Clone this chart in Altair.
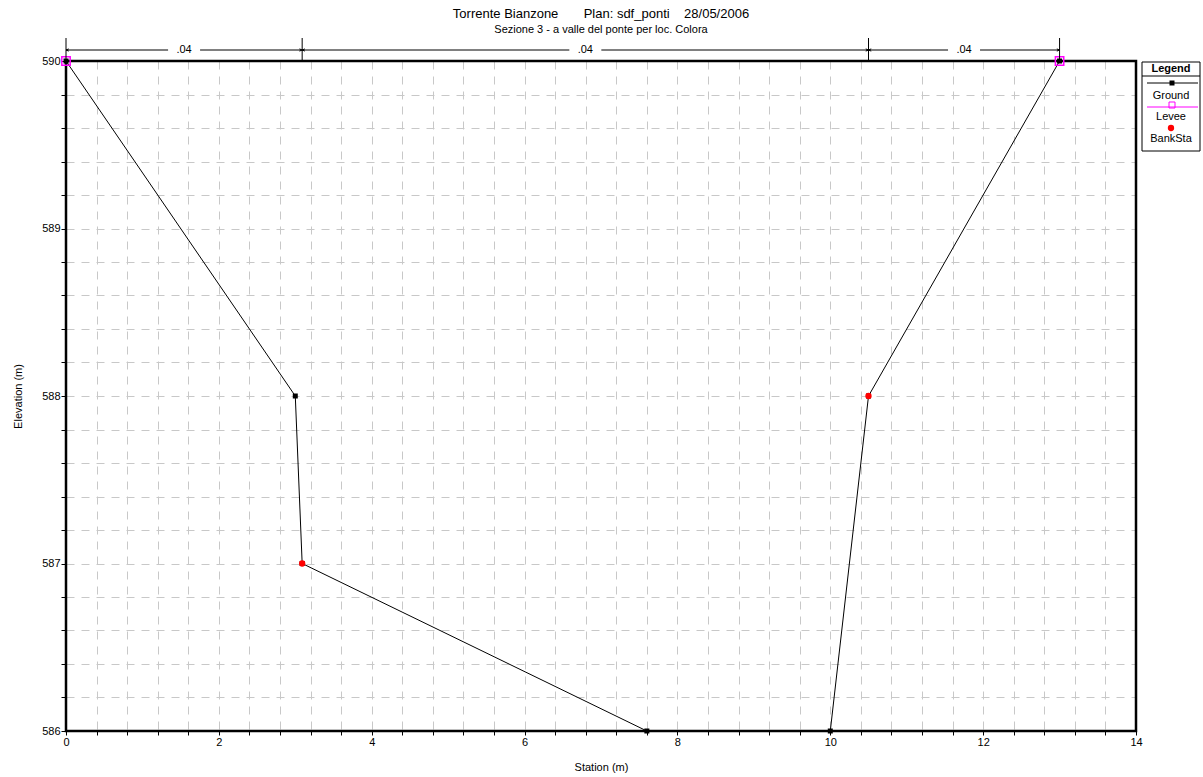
import altair as alt
import pandas as pd

# ---- data ----
station = [0.0, 3.0, 3.09, 7.6, 10.0, 10.5, 13.0]
elevation = [590.0, 588.0, 587.0, 586.0, 586.0, 588.0, 590.0]
bank_station = [3.09, 10.5]
bank_elevation = [587.0, 588.0]
levee_station = [0.0, 13.0]
levee_elevation = [590.0, 590.0]
n_bounds = [0.0, 3.09, 10.5, 13.0]
n_values = [".04", ".04", ".04"]
legend_items = ["Ground", "Levee", "BankSta"]
x_ticks = [round(i * 0.4, 1) for i in range(36)]
y_ticks = [round(586 + i * 0.2, 1) for i in range(21)]

FONT = "Liberation Sans"
W, H = 1070, 670
NB = "\u00a0"

xs = alt.Scale(domain=[0, 14], nice=False, zero=False)
ys = alt.Scale(domain=[586, 590], nice=False, zero=False)

x_axis = alt.Axis(values=x_ticks, labelExpr="abs(round(datum.value*10) % 20) == 0 ? format(datum.value, 'd') : ''",
                  title="Station (m)", grid=True, gridDash=[8, 7], gridColor="#c8c8c8", gridWidth=1,
                  tickSize=4, tickColor="black", labelPadding=1, titlePadding=14, labelFlush=False)
y_axis = alt.Axis(values=y_ticks, labelExpr="abs(round(datum.value*10) % 10) == 0 ? format(datum.value, 'd') : ''",
                  title="Elevation (m)", grid=True, gridDash=[8, 7], gridColor="#c8c8c8", gridWidth=1,
                  tickSize=5, tickColor="black", labelPadding=1, titlePadding=18, labelFlush=False)

ground = pd.DataFrame({"station": station, "elevation": elevation, "order": list(range(len(station)))})
bank = pd.DataFrame({"station": bank_station, "elevation": bank_elevation})
levee = pd.DataFrame({"station": levee_station, "elevation": levee_elevation})
nseg = pd.DataFrame({"x1": n_bounds[:-1], "x2": n_bounds[1:], "label": n_values})
bounds = pd.DataFrame({"b": n_bounds})

X = lambda f="station": alt.X(f"{f}:Q", scale=xs, axis=x_axis)
Y = alt.Y("elevation:Q", scale=ys, axis=y_axis)

line = alt.Chart(ground).mark_line(color="black", strokeWidth=1).encode(x=X(), y=Y, order="order:Q")
levee_pts = alt.Chart(levee).mark_point(shape="square", filled=False, color="#ff00ff", strokeWidth=1.5, size=70, opacity=1).encode(x=X(), y=Y)
ground_pts = alt.Chart(ground).mark_square(color="black", size=25, opacity=1).encode(x=X(), y=Y)
bank_pts = alt.Chart(bank).mark_circle(color="red", size=40, opacity=1).encode(x=X(), y=Y)

# plot frame drawn over the grid
one = pd.DataFrame({"k": [0]})
frame = alt.Chart(one).mark_rect(fill=None, fillOpacity=0, stroke="black", strokeWidth=2.5).encode(
    x=alt.value(0), x2=alt.value(W), y=alt.value(0), y2=alt.value(H))

# Manning's n dimension bar above the plot
DY = -11
seg = alt.Chart(nseg).transform_calculate(mid="(datum.x1 + datum.x2) / 2")
dim_left = seg.mark_rule(color="black", strokeWidth=1, x2Offset=-16).encode(x=X("x1"), x2="mid:Q", y=alt.value(DY))
dim_right = seg.mark_rule(color="black", strokeWidth=1, xOffset=16).encode(x=X("mid"), x2="x2:Q", y=alt.value(DY))
arrow_l = seg.mark_point(shape="M1,-0.4L0,0L1,0.4", filled=False, color="black", size=30, strokeWidth=1, opacity=1).encode(x=X("x1"), y=alt.value(DY))
arrow_r = seg.mark_point(shape="M-1,-0.4L0,0L-1,0.4", filled=False, color="black", size=30, strokeWidth=1, opacity=1).encode(x=X("x2"), y=alt.value(DY))
dim_text = seg.mark_text(font=FONT, fontSize=11, color="black", baseline="middle").encode(x=X("mid"), y=alt.value(DY), text="label:N")
dim_ticks = alt.Chart(bounds).mark_rule(color="black", strokeWidth=1).encode(x=X("b"), y=alt.value(-23), y2=alt.value(0))

# custom legend box
lx0, lx1, lxc = 1076, 1134, 1105
leg = [
    alt.Chart(one).mark_rect(fill="white", stroke="black", strokeWidth=1).encode(
        x=alt.value(lx0), x2=alt.value(lx1), y=alt.value(1), y2=alt.value(90)),
    alt.Chart(one).mark_text(text="Legend", font=FONT, fontSize=11, fontWeight="bold", baseline="middle", color="black").encode(
        x=alt.value(lxc), y=alt.value(8)),
    alt.Chart(one).mark_rule(color="black", strokeWidth=1).encode(x=alt.value(lx0), x2=alt.value(lx1), y=alt.value(15)),
    alt.Chart(one).mark_rule(color="black", strokeWidth=1).encode(x=alt.value(lx0 + 5), x2=alt.value(lx1 - 2), y=alt.value(22)),
    alt.Chart(one).mark_square(color="black", size=25, opacity=1).encode(x=alt.value(lxc + 1), y=alt.value(22)),
    alt.Chart(one).mark_rule(color="#ff00ff", strokeWidth=1).encode(x=alt.value(lx0 + 5), x2=alt.value(lx1 - 2), y=alt.value(46)),
    alt.Chart(one).mark_point(shape="square", filled=False, color="#ff00ff", size=36, strokeWidth=1, opacity=1).encode(x=alt.value(lxc + 1), y=alt.value(44)),
    alt.Chart(one).mark_circle(color="red", size=40, opacity=1).encode(x=alt.value(lxc), y=alt.value(67)),
]
for item, ty in zip(legend_items, [35, 56, 78]):
    leg.append(alt.Chart(one).mark_text(text=item, font=FONT, fontSize=11, baseline="middle", color="black").encode(
        x=alt.value(lxc), y=alt.value(ty)))

chart = alt.layer(
    line, frame, levee_pts, ground_pts, bank_pts,
    dim_ticks, dim_left, dim_right, arrow_l, arrow_r, dim_text,
    *leg,
).properties(
    width=W, height=H,
    autosize=alt.AutoSizeParams(type="none"),
    padding={"left": 66, "top": 61, "right": 67, "bottom": 46},
    title=alt.TitleParams(
        text="Torrente Bianzone" + NB * 7 + "Plan: sdf_ponti" + NB * 4 + "28/05/2006",
        subtitle="Sezione 3 - a valle del ponte per loc. Colora",
        font=FONT, fontSize=13, fontWeight="normal", color="black",
        subtitleFont=FONT, subtitleFontSize=11, subtitleColor="black", subtitlePadding=3,
        anchor="middle", offset=3,
    ),
).configure_view(
    stroke=None
).configure_axis(
    labelFont=FONT, titleFont=FONT, labelFontSize=11, titleFontSize=11,
    labelColor="black", titleColor="black", titleFontWeight="normal", domain=False,
)

chart.save("out.html", embed_options={"renderer": "svg", "actions": False})
